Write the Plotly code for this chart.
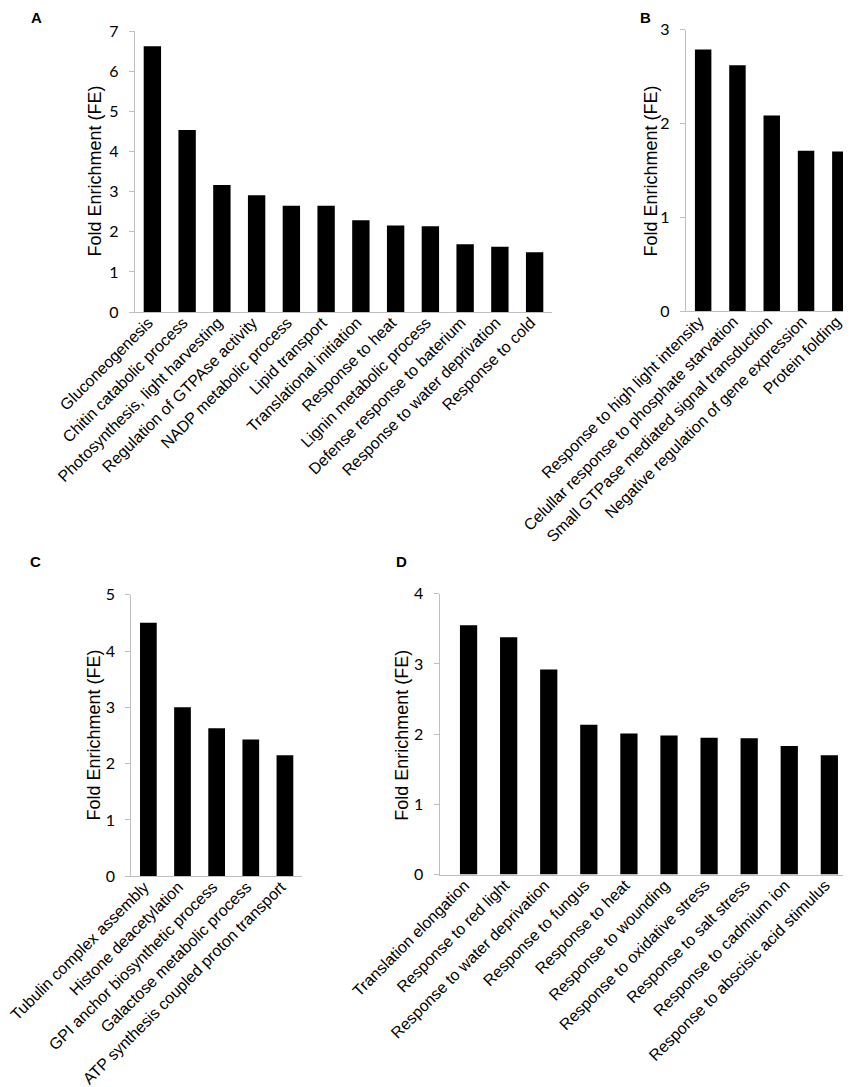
import plotly.graph_objects as go

W, H = 851, 1087

# panel A
a_terms = ["Gluconeogenesis", "Chitin catabolic process", "Photosynthesis, light harvesting",
           "Regulation of GTPAse activity", "NADP metabolic process", "Lipid transport",
           "Translational initiation", "Response to heat", "Lignin metabolic process",
           "Defense response to baterium", "Response to water deprivation", "Response to cold"]
a_fe = [6.63, 4.54, 3.17, 2.91, 2.65, 2.65, 2.29, 2.16, 2.14, 1.69, 1.63, 1.49]

# panel B
b_terms = ["Response to high light intensity", "Celullar response to phosphate starvation",
           "Small GTPase mediated signal transduction", "Negative regulation of gene expression",
           "Protein folding"]
b_fe = [2.79, 2.62, 2.085, 1.71, 1.70]

# panel C
c_terms = ["Tubulin complex assembly", "Histone deacetylation", "GPI anchor biosynthetic process",
           "Galactose metabolic process", "ATP synthesis coupled proton transport"]
c_fe = [4.50, 3.00, 2.63, 2.43, 2.15]

# panel D
d_terms = ["Translation elongation", "Response to red light", "Response to water deprivation",
           "Response to fungus", "Response to heat", "Response to wounding",
           "Response to oxidative stress", "Response to salt stress", "Response to cadmium ion",
           "Response to abscisic acid stimulus"]
d_fe = [3.55, 3.38, 2.92, 2.135, 2.01, 1.98, 1.95, 1.94, 1.83, 1.70]


def px_x(p):
    return p / W


def px_y(p):
    return 1 - p / H


# letter, terms, values, x px span, y px span (bottom, top), y max, bar width, x range, title pos, letter pos
panels = [
    ("A", a_terms, a_fe, (127, 544), (304, 23.3), 7, 0.50, None, (86, 163.5), (28.6, 10)),
    ("B", b_terms, b_fe, (678, 849.5), (303, 21.7), 3, 0.48, None, (642, 163.5), (637.3, 9.3)),
    ("C", c_terms, c_fe, (123.3, 294), (868.3, 586.7), 5, 0.49, None, (85, 727.5), (27.7, 553.3)),
    ("D", d_terms, d_fe, (431.7, 847), (866.6, 585.7), 4, 0.43, [-0.72, 9.64], (393.3, 727.5), (393.3, 553.3)),
]

fig = go.Figure()
annotations = []
layout = {}

for i, (letter, terms, vals, xs, ys, ymax, bw, xr, tpos, lpos) in enumerate(panels, start=1):
    sfx = "" if i == 1 else str(i)
    fig.add_trace(go.Bar(
        x=terms, y=vals, width=bw,
        marker=dict(color="black", line=dict(width=0)),
        xaxis="x" + sfx, yaxis="y" + sfx, showlegend=False,
    ))
    xa = dict(
        domain=[px_x(xs[0]), px_x(xs[1])], anchor="y" + sfx,
        showline=True, linecolor="#bfbfbf", linewidth=1.3,
        showgrid=False, zeroline=False, ticks="", automargin=False,
        tickangle=-45, ticklabelstandoff=-6, ticklabelshift=-4,
        tickfont=dict(family="Liberation Sans, Arial", size=16, color="black"),
        fixedrange=True,
    )
    if xr:
        xa["range"] = xr
    ya = dict(
        domain=[px_y(ys[0]), px_y(ys[1])], anchor="x" + sfx,
        range=[0, ymax], dtick=1, automargin=False,
        showline=True, linecolor="#bfbfbf", linewidth=1.3,
        showgrid=False, zeroline=False,
        ticks="outside", ticklen=5, tickcolor="#bfbfbf", tickwidth=1.3,
        ticklabelstandoff=7,
        tickfont=dict(family="Lato, Open Sans", size=16, color="black"),
        fixedrange=True,
    )
    layout["xaxis" + sfx] = xa
    layout["yaxis" + sfx] = ya

    annotations.append(dict(
        text="Fold Enrichment (FE)", textangle=-90, showarrow=False,
        xref="paper", yref="paper", x=px_x(tpos[0]), y=px_y(tpos[1]),
        xanchor="center", yanchor="middle",
        font=dict(family="Liberation Sans, Arial", size=18, color="black"),
    ))
    annotations.append(dict(
        text="<b>" + letter + "</b>", showarrow=False,
        xref="paper", yref="paper", x=px_x(lpos[0]), y=px_y(lpos[1]),
        xanchor="center", yanchor="middle",
        font=dict(family="Liberation Sans, Arial", size=15, color="black"),
    ))

fig.update_layout(
    template="none",
    width=W, height=H, autosize=False,
    margin=dict(l=0, r=0, t=0, b=0, autoexpand=False),
    paper_bgcolor="white", plot_bgcolor="white",
    annotations=annotations,
    **layout,
)

fig.write_html("out.html")
